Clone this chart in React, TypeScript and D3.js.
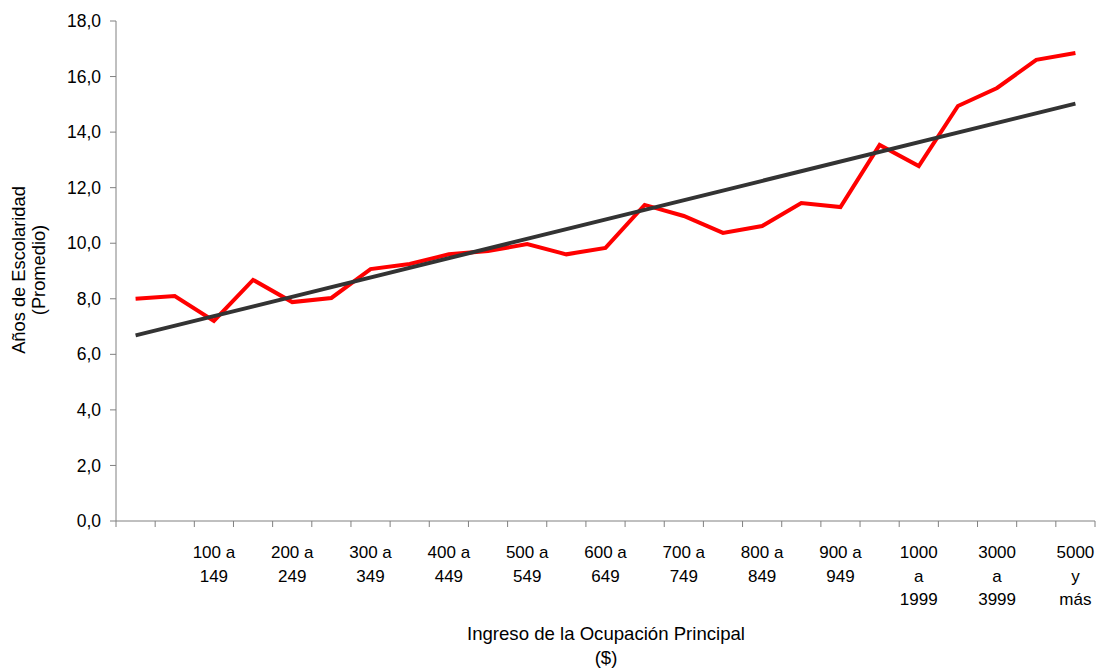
import React from "react";
import * as d3 from "d3";

const categories: string[] = [
  "", "50 a 99", "100 a 149", "150 a 199", "200 a 249", "250 a 299",
  "300 a 349", "350 a 399", "400 a 449", "450 a 499", "500 a 549",
  "550 a 599", "600 a 649", "650 a 699", "700 a 749", "750 a 799",
  "800 a 849", "850 a 899", "900 a 949", "950 a 999", "1000 a 1999",
  "2000 a 2999", "3000 a 3999", "4000 a 4999", "5000 y más",
];

// Label lines as drawn (every other category shown)
const tickLabelLines: string[][] = [
  [], ["50 a", "99"], ["100 a", "149"], ["150 a", "199"], ["200 a", "249"], ["250 a", "299"],
  ["300 a", "349"], ["350 a", "399"], ["400 a", "449"], ["450 a", "499"], ["500 a", "549"],
  ["550 a", "599"], ["600 a", "649"], ["650 a", "699"], ["700 a", "749"], ["750 a", "799"],
  ["800 a", "849"], ["850 a", "899"], ["900 a", "949"], ["950 a", "999"], ["1000", "a", "1999"],
  ["2000", "a", "2999"], ["3000", "a", "3999"], ["4000", "a", "4999"], ["5000", "y", "más"],
];

const escolaridad: number[] = [
  8.0, 8.1, 7.2, 8.68, 7.88, 8.03, 9.07, 9.25, 9.6, 9.72, 9.97, 9.6, 9.83,
  11.38, 10.98, 10.37, 10.62, 11.45, 11.3, 13.54, 12.78, 14.94, 15.59, 16.6, 16.85,
];

const yTicks: number[] = [0, 2, 4, 6, 8, 10, 12, 14, 16, 18];

export default function App() {
  const W = 1097, H = 668;
  const left = 116, right = 1095, top = 21, bottom = 521;
  const font = "'Liberation Sans', Arial, sans-serif";

  const x = d3.scaleBand<string>().domain(categories.map((_, i) => String(i))).range([left, right]).padding(0);
  const y = d3.scaleLinear().domain([0, 18]).range([bottom, top]);
  const cx = (i: number) => (x(String(i)) as number) + x.bandwidth() / 2;

  // Linear trend (least squares)
  const n = escolaridad.length;
  const xs = escolaridad.map((_, i) => i + 1);
  const mx = d3.mean(xs) as number;
  const my = d3.mean(escolaridad) as number;
  const slope = d3.sum(xs.map((xv, i) => (xv - mx) * (escolaridad[i] - my))) / d3.sum(xs.map((xv) => (xv - mx) ** 2));
  const intercept = my - slope * mx;
  const trendStart = intercept + slope * 1;
  const trendEnd = intercept + slope * n;
  const trendPath = `M${cx(0)},${y(trendStart)}L${cx(n - 1)},${y(trendEnd)}`;

  const line = d3.line<number>().x((_, i) => cx(i)).y((d) => y(d));

  const fmt = (v: number) => v.toFixed(1).replace(".", ",");
  const axisColor = "#808080";

  return (
    <svg width={W} height={H} style={{ position: "absolute", left: 0, top: 0 }} fontFamily={font}>
      <rect width={W} height={H} fill="#fff" />
      {/* y axis */}
      <line x1={left} x2={left} y1={top} y2={bottom} stroke={axisColor} strokeWidth={1} />
      {yTicks.map((t) => (
        <g key={t}>
          <line x1={left - 6} x2={left} y1={y(t)} y2={y(t)} stroke={axisColor} />
          <text x={101} y={y(t)} dy="0.35em" textAnchor="end" fontSize={17.5} fill="#000">
            {fmt(t)}
          </text>
        </g>
      ))}
      {/* x axis */}
      <line x1={left} x2={right} y1={bottom} y2={bottom} stroke={axisColor} />
      {categories.map((c, i) => (
        <line key={"t" + i} x1={x(String(i))} x2={x(String(i))} y1={bottom} y2={bottom + 6} stroke={axisColor} />
      ))}
      <line x1={right} x2={right} y1={bottom} y2={bottom + 6} stroke={axisColor} />
      {categories.map((c, i) =>
        i % 2 === 0 ? (
          <text key={"l" + i} x={cx(i)} y={558} textAnchor="middle" fontSize={17} fill="#000">
            {tickLabelLines[i].map((ln, k) => (
              <tspan key={k} x={cx(i)} dy={k === 0 ? 0 : 23.5}>{ln}</tspan>
            ))}
          </text>
        ) : null
      )}
      {/* axis titles */}
      <text x={606} y={640} textAnchor="middle" fontSize={18.6} fill="#000">
        <tspan x={606} dy={0}>Ingreso de la Ocupación Principal</tspan>
        <tspan x={606} dy={24}>($)</tspan>
      </text>
      <text transform={`translate(25,270) rotate(-90)`} textAnchor="middle" fontSize={18.3} fill="#000">
        <tspan x={0} dy={0}>Años de Escolaridad</tspan>
        <tspan x={0} dy={20}>(Promedio)</tspan>
      </text>
      {/* data */}
      <path d={line(escolaridad) as string} fill="none" stroke="#FF0000" strokeWidth={4} strokeLinejoin="miter" />
      <path d={trendPath} fill="none" stroke="#333333" strokeWidth={4} />
    </svg>
  );
}
